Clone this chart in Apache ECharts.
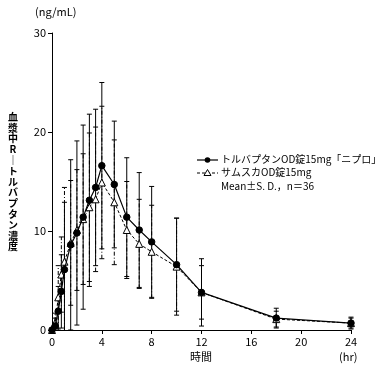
<!DOCTYPE html>
<html><head><meta charset="utf-8">
<script src="https://cdn.jsdelivr.net/npm/echarts@6/dist/echarts.min.js"></script>
<style>html,body{margin:0;padding:0;background:#fff}#c{width:380px;height:366px}</style>
</head><body><div id="c"></div>
<script>
const times = [0,0.25,0.5,0.75,1,1.5,2,2.5,3,3.5,4,5,6,7,8,10,12,18,24];
const testMean = [0,0.4,1.9,3.9,6.1,8.6,9.8,11.4,13.1,14.4,16.6,14.7,11.4,10.1,8.9,6.6,3.8,1.2,0.7];
const testSD = [0,0.8,2.5,3.7,6.8,8.6,9.3,9.3,8.7,7.9,8.4,6.4,6.0,5.8,5.6,4.7,3.4,1.0,0.6];
const refMean = [0,0.7,3.3,5.6,6.9,8.8,10.1,11.2,12.4,13.2,14.9,12.9,10.1,8.7,7.9,6.4,3.8,1.1,0.7];
const refSD = [0,1.0,3.2,3.8,7.5,6.3,6.1,6.6,7.5,7.3,7.7,6.3,4.9,4.5,4.7,4.9,2.7,0.8,0.5];
const xTicks = [0,4,8,12,16,20,24];
const yTicks = [0,10,20,30];
const testName = 'トルバプタンOD錠15mg「ニプロ」';
const refName = 'サムスカOD錠15mg';
const noteText = 'Mean±S. D.，n＝36';
const yTitle = '血漿中R｜トルバプタン濃度';
const yUnit = '(ng/mL)';
const xTitle = '時間';
const xUnit = '(hr)';

const FONT = '"Noto Sans CJK JP", sans-serif';
const chart = echarts.init(document.getElementById('c'), null, {renderer:'canvas'});

function errData(m, s){ return times.map((t,i)=>[t, Math.max(0, m[i]-s[i]), m[i]+s[i], m[i]-s[i] >= 0 ? 1 : 0]); }
function errRender(dash){
  return function(params, api){
    const x = api.value(0), lo = api.value(1), hi = api.value(2), capLo = api.value(3);
    if (hi - lo <= 0) return null;
    const a = api.coord([x, lo]), b = api.coord([x, hi]);
    const w = 2.5;
    const st = {stroke:'#000', lineWidth:1, lineDash: dash};
    const st2 = {stroke:'#000', lineWidth:1};
    const ch = [
      {type:'line', shape:{x1:a[0], y1:a[1], x2:b[0], y2:b[1]}, style:st},
      {type:'line', shape:{x1:b[0]-w, y1:b[1], x2:b[0]+w, y2:b[1]}, style:st2}
    ];
    if (capLo) ch.push({type:'line', shape:{x1:a[0]-w, y1:a[1], x2:a[0]+w, y2:a[1]}, style:st2});
    return {type:'group', children: ch};
  };
}

const titleChars = yTitle.split('').map((ch, i) => ({
  type:'text', x:13, y:117 + i*10.8,
  style:{text:ch, font:'bold 10px '+FONT, fill:'#000', align:'center', verticalAlign:'middle'}
}));

chart.setOption({
  animation:false,
  grid:{left:52, right:29, top:33, bottom:36, containLabel:false},
  xAxis:{type:'value', min:0, max:24, interval:4,
    axisLine:{lineStyle:{color:'#000', width:1}}, axisTick:{show:true, length:4, lineStyle:{color:'#000'}},
    axisLabel:{color:'#000', fontSize:11, fontFamily:FONT, margin:6}, splitLine:{show:false}},
  yAxis:{type:'value', min:0, max:30, interval:10,
    axisLine:{show:true, lineStyle:{color:'#000', width:1}}, axisTick:{show:true, length:4, lineStyle:{color:'#000'}},
    axisLabel:{color:'#000', fontSize:11, fontFamily:FONT, margin:6}, splitLine:{show:false}},
  series:[
    {type:'custom', renderItem: errRender([4,2,1,2]), data: errData(refMean, refSD), z:1, clip:false},
    {type:'custom', renderItem: errRender(null), data: errData(testMean, testSD), z:1, clip:false},
    {type:'line', name: refName, data: times.map((t,i)=>[t, refMean[i]]), symbol:'triangle', symbolSize:7,
      lineStyle:{color:'#000', width:1, type:[3,2]}, itemStyle:{color:'#fff', borderColor:'#000', borderWidth:1}, z:3},
    {type:'line', name: testName, data: times.map((t,i)=>[t, testMean[i]]), symbol:'circle', symbolSize:6.5,
      lineStyle:{color:'#000', width:1.2}, itemStyle:{color:'#000', borderColor:'#000'}, z:4}
  ],
  graphic: titleChars.concat([
    {type:'text', left:35, top:6, style:{text:yUnit, font:'11px '+FONT, fill:'#000'}},
    {type:'text', left:190, top:351, style:{text:xTitle, font:'11px '+FONT, fill:'#000'}},
    {type:'text', left:339, top:351, style:{text:xUnit, font:'11px '+FONT, fill:'#000'}},
    {type:'line', shape:{x1:197, y1:160, x2:218, y2:160}, style:{stroke:'#000', lineWidth:1.2}},
    {type:'circle', shape:{cx:207.5, cy:160, r:2.8}, style:{fill:'#000'}},
    {type:'text', left:221, top:154, style:{text:testName, font:'10px '+FONT, fill:'#000'}},
    {type:'line', shape:{x1:197, y1:173, x2:218, y2:173}, style:{stroke:'#000', lineWidth:1, lineDash:[3,2]}},
    {type:'polygon', shape:{points:[[207.5,169.5],[211,175.5],[204,175.5]]}, style:{fill:'#fff', stroke:'#000', lineWidth:1}},
    {type:'text', left:221, top:167, style:{text:refName, font:'10px '+FONT, fill:'#000'}},
    {type:'text', left:221, top:181, style:{text:noteText, font:'10px '+FONT, fill:'#000'}}
  ])
});
</script></body></html>
